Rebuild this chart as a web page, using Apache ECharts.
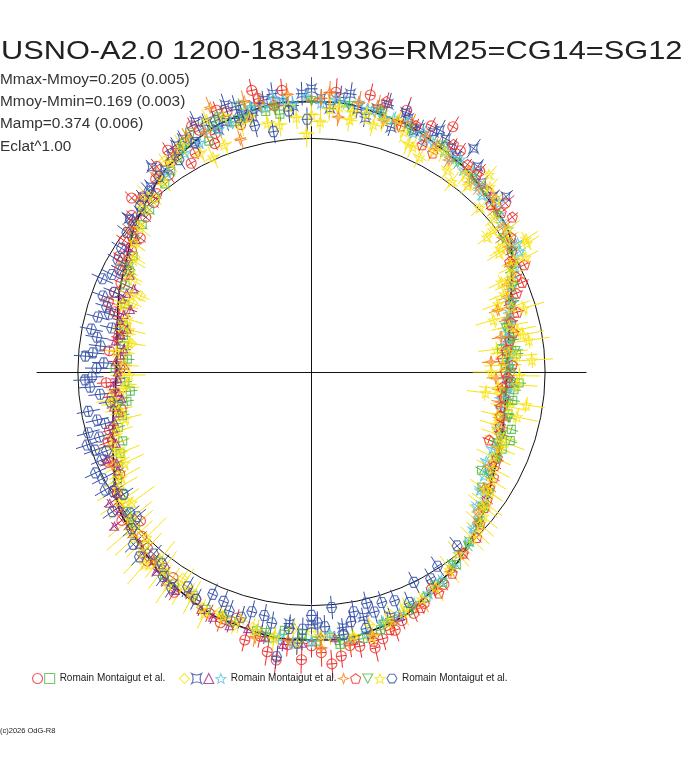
<!DOCTYPE html>
<html><head><meta charset="utf-8">
<script src="https://cdn.jsdelivr.net/npm/echarts@6/dist/echarts.min.js"></script>
<style>html,body{margin:0;padding:0;background:#fff}#c{width:688px;height:768px}</style>
</head><body><div id="c"></div>
<script>
// ---- texts ----
const titleText = 'USNO-A2.0 1200-18341936=RM25=CG14=SG12';
const statLines = ['Mmax-Mmoy=0.205 (0.005)', 'Mmoy-Mmin=0.169 (0.003)', 'Mamp=0.374 (0.006)', 'Eclat^1.00'];
const legendLabel = 'Romain Montaigut et al.';
const footerText = '(c)2026 OdG-R8';

// ---- scale (plot units: reference circle = 100) ----
const refRadius = 100;
const axisHalf = 117.5;

// ---- fitted curve: [phase angle deg, radius] ----
const modelCurve = [[0,83.5],[15,88],[30,99],[45,106],[60,110.5],[75,114],[90,115.5],[105,114],[120,109],[135,101],[150,92],[165,86],[180,83.5],[195,88],[210,97],[225,104],[240,109.5],[255,113],[270,114.5],[285,113],[300,106],[315,98],[330,89.5],[345,85]];

// ---- observations: [phase angle deg, radius, radial error] ----
const redCircles = [[96,121,5],[101,119,4],[104,113,3],[108,117,4],[112,110,4],[115,114,3],[118,106,3],[121,111,4],[124,108,3],[126,104,4],[129,106,3],[131,101,3],[134,104,4],[137,97,3],[140,99,3],[143,96,4],[146,93,3],[152,93,4],[158,91,3],[163,88,4],[170,84,3],[187,86,4],[196,90,3],[204,95,4],[212,98,3],[218,103,4],[224,101,3],[229,107,4],[233,105,3],[238,111,4],[243,109,3],[250,114,4],[256,118,5],[261,121,6],[265,117,5],[268,123,6],[272,120,6],[276,122,5],[280,119,5],[285,118,5],[290,113,4],[296,110,4],[302,107,3],[41,110,5],[56,114,4],[64,117,4],[70,119,6],[85,120,6],
  [98,115,4],[102,123,5],[106,110,3],[110,119,4],[113,106,3],[116,117,4],[120,103,3],[123,113,4],[127,110,4],[133,99,3],[136,107,4],[139,102,3],[142,93,3],[145,98,4],[149,96,3],[155,90,3],[161,92,4],[167,84,3],[174,87,4],[179,82,3],[183,88,4],[191,83,3],[199,92,4],[208,93,3],[215,101,4],[221,97,3],[227,103,4],[236,106,3],[247,112,4],[253,110,4],[259,115,5],[263,124,6],[270,117,5],[274,125,6],[278,118,5],[283,121,6],[288,116,5],[293,112,4],[299,106,4],[50,112,4],[60,121,5],[78,121,5]];
const greenSquares = [[97,111,3],[103,115,3],[107,112,3],[110,116,3],[114,108,3],[119,112,3],[125,105,3],[132,100,3],[139,96,3],[147,91,3],[155,88,3],[166,83,3],[172,81,3],[176,79,3],[183,80,3],[189,80,3],[193,83,3],[200,86,3],[206,92,3],[213,96,3],[221,100,3],[231,104,3],[237,108,3],[246,111,3],[258,113,3],[264,111,3],[271,115,3],[276,117,3],[281,116,3],[288,112,3],[297,108,3],[307,103,3],[318,96,3],[326,88,3],[330,84,3],[335,87,3],[338,88,3],[341,90,3],[344,89,3],[352,87,3],[355,87,3],[0,85,3],[5,88,3],[7,82,3],[14,87,3],
  [100,113,3],[105,118,3],[112,113,3],[117,115,3],[122,108,3],[128,102,3],[135,98,3],[143,95,3],[151,89,3],[160,85,3],[169,82,3],[179,84,3],[186,78,3],[196,86,3],[203,89,3],[209,95,3],[217,99,3],[226,103,3],[234,107,3],[242,108,3],[252,112,3],[261,115,3],[268,112,3],[285,114,3],[292,110,3],[302,106,3],[313,99,3],[322,93,3],[348,86,3],[357,89,3],[2,83,3],[10,86,3]];
const yellowDiamonds = [[122,108,4],[128,103,4],[136,99,4],[144,93,5],[151,89,4],[156,80,4],[161,85,4],[168,82,5],[174,80,4],[181,82,4],[186,85,5],[192,84,4],[198,89,4],[205,91,5],[211,96,4],[219,99,5],[226,103,4],[234,106,4],[241,107,4],[249,110,5],[257,112,4],[266,110,4],[274,113,4],[283,111,4],[292,108,4],
  [118,112,4],[125,110,4],[132,100,4],[140,97,4],[147,90,5],[153,86,4],[159,82,4],[165,84,4],[171,78,4],[177,83,4],[184,79,4],[189,87,4],[195,86,4],[202,90,4],[208,94,4],[215,97,4],[222,101,4],[230,107,4],[238,104,4],[245,111,4],[253,113,4],[262,114,4],[270,111,4],[279,115,4],[288,109,4]];
const blueCrosses = [[42,112,4],[48,109,4],[54,118,5],[58,113,4],[60,115,4],[63,115,4],[67,112,4],[70,118,5],[72,110,4],[76,116,4],[80,114,4],[84,118,5],[88,117,4],[92,119,5],[96,116,4],[100,118,4],[103,112,4],[106,118,5],[109,113,4],[113,116,4],[117,110,4],[121,113,4],[126,107,4],[131,105,4],[137,100,4],[265,108,4],[277,110,4],
  [44,108,4],[51,113,4],[56,111,4],[62,117,5],[66,114,4],[69,116,4],[74,119,5],[78,111,4],[82,120,5],[86,113,4],[90,121,5],[94,114,4],[98,120,5],[102,116,4],[105,114,4],[108,120,5],[111,111,4],[115,118,5],[119,114,4],[123,110,4],[128,111,4],[134,104,4],[140,102,4],[270,108,4],[282,107,4],[288,110,4]];
const purpleTriangles = [[141,98,3],[146,95,3],[150,91,3],[155,84,3],[159,87,3],[161,82,3],[165,85,3],[169,83,3],[173,81,3],[177,84,3],[180,83,3],[184,85,3],[186,83,3],[190,86,3],[194,87,3],[198,90,3],[203,95,3],[207,93,3],[210,97,3],[213,103,3],[216,101,3],[218,107,3],[222,103,3],[227,106,3],[232,108,3],[238,110,3],[245,112,3],[252,114,3],[260,115,3],[268,116,3],[275,114,3],[283,115,3],
  [143,94,3],[148,93,3],[152,88,3],[157,86,3],[163,84,3],[167,81,3],[171,85,3],[175,82,3],[178,80,3],[182,83,3],[188,82,3],[192,84,3],[196,88,3],[200,89,3],[205,92,3],[212,98,3],[220,102,3],[225,104,3],[230,105,3],[235,109,3],[241,108,3],[248,113,3],[256,113,3],[264,117,3],[272,113,3],[279,116,3],[290,111,3]];
const cyanStars = [[-35,88,3],[-31,86,3],[-27,84,3],[-23,84,3],[-17,83.5,3],[-11,83,3],[-6,84,3],[-2,83,3],[3,85,3],[8,84,3],[12,86,3],[15,87.5,3],[17,88.7,3],[20,90,3],[23,93,3],[27,98,3],[30,103,3],[33,101,3],[36,104,3],[40,105,3],[44,106,3],[48,107,3],[51,110,3],[53,108,3],[57,109,3],[62,111,3],[65,113,3],[67,111,3],[72,114,3],[76,115,3],[80,117,3],[83,116,3],[88,115,3],[91,118,3],[96,117,3],[100,115,3],[105,113,3],[111,111,3],[116,109,3],[263,114,3],[270,115,3],[274,112,3],[282,114,3],[290,110,3],[298,107,3],[306,103,3],[313,99,3],[319,95,3],
  [-44,96,3],[-39,91,3],[-29,87,3],[-20,85,3],[-14,84,3],[-8,82,3],[-4,86,3],[1,84,3],[6,86,3],[10,85,3],[14,88,3],[19,91,3],[25,95,3],[29,99,3],[32,104,3],[38,103,3],[42,108,3],[46,105,3],[50,107,3],[55,111,3],[59,110,3],[64,110,3],[69,114,3],[74,113,3],[78,115,3],[85,117,3],[94,115,3],[98,118,3],[103,116,3],[108,112,3],[114,113,3],[120,108,3],[126,105,3],[258,113,3],[266,116,3],[278,115,3],[286,111,3],[294,108,3],[302,105,3],[309,100,3],[316,97,3],[324,92,3]];
const orangeStars = [[-40,93,4],[-28,86,4],[-14,84,4],[-5.4,81.6,4],[-1.9,79,4],[3.2,77,4],[10.4,82.5,4],[18.4,84,4],[24,92,4],[28.5,97.7,4],[32.3,100,4],[37,103,4],[41.5,104.5,4],[47.6,106.5,4],[52,109,4],[57,108,4],[64,112,4],[71,113,4],[76,117,5],[80,117,5],[84,109.6,4],[86.3,119.6,5],[90,116,4],[95,119,5],[101,117,4],[107,104,4],[111,121,5],[118,114,4],[128,108,4],[142,99,4],[265,115,4],[278,117,4],[288,113,4],[300,107,4],[310,101,4],
  [-34,89,4],[-22,86,4],[-9,82,4],[7,84,4],[15,87,4],[21,90,4],[35,100,4],[44,108,4],[50,106,4],[61,111,4],[68,115,4],[74,112,4],[88,117,4],[98,115,4],[104,119,5],[114,112,4],[122,110,4],[135,104,4],[150,93,4],[205,94,4],[230,105,4],[250,112,4],[258,116,4],[272,118,4],[283,115,4],[294,110,4],[305,104,4],[318,96,4]];
const redPentagons = [[-45,100,3],[-38,94,3],[-33,91,3],[-30,90,3],[-24.8,87.6,3],[-20.9,81.4,3],[-16,84,3],[-10.4,82.5,3],[-7.4,83,3],[-4.5,82,3],[-1.5,84,3],[2,86,3],[6.4,84,3],[11,88,3],[16.2,91.7,3],[21,94,3],[24.9,96.6,3],[26.7,102,3],[31,100,3],[37.6,108.5,3],[43,105,3],[50,110,3],[58,114.7,3],[61,107,3],[64,108,3],[67,114.5,3],[74.5,120,4],[283,118,4],[295,111,3],[305,105,3],
  [-42,97,3],[-36,93,3],[-27,88,3],[-18,85,3],[-13,83,3],[-3,85,3],[0,83,3],[4,82,3],[9,86,3],[14,88,3],[19,90,3],[23,98,3],[29,97,3],[34,103,3],[40,106,3],[46,108,3],[53,111,3],[70,112,3],[287,115,3],[300,109,3],[310,101,3]];
const greenTriangles = [[-42,97,3],[-34,92,3],[-25,88,3],[-18,86,3],[-9,85,3],[-3,86,3],[4,84,3],[9,87,3],[19,91,3],[27,96,3],[35,100,3],[46,107,3],[55,109,3],[68,112,3],[82,115,3],[98,114,3],[268,114,3],[286,112,3],[300,105,3],[312,100,3],
  [-38,94,3],[-30,88,3],[-21,85,3],[-13,87,3],[-6,83,3],[1,85,3],[6,88,3],[13,85,3],[23,94,3],[31,100,3],[40,104,3],[50,108,3],[60,112,3],[75,115,3],[90,116,3],[105,112,3],[120,110,3],[150,90,3],[190,84,3],[220,101,3],[250,111,3],[260,113,3],[276,115,3],[293,110,3],[306,102,3]];
const yellowStars = [[-40,96,8],[-34,92,7],[-28,88,8],[-22,87,7],[-18.5,84.7,8],[-13,81.6,7],[-12.3,90,9],[-8.7,93,8],[-6.8,75,8],[-3.6,88,9],[0,77,8],[3.1,94.5,9],[5.8,85,8],[8.3,94,9],[11.5,90,8],[15.9,81,8],[16.7,95,9],[22,89,7],[25.3,89.9,6],[25.8,95,6],[27.7,96.6,6],[28.1,104,6],[30.8,107.5,6],[31.8,108,6],[32.3,95,6],[34,101,6],[37.5,94.7,5],[38,98.5,5],[42.9,108,5],[44.3,100.5,5],[48,113.5,5],[50,104,5],[53.6,101,5],[58.8,110,5],[63.3,102.8,5],[65.8,105.5,5],[69,110,5],[73.8,112,5],[78,113,5],[81,112.5,5],[81.4,109,5],[86,112.6,5],[88,107,5],[91.2,102,6],[93.4,109,5],[97.4,106.5,5],[103.7,112,5],[109,115.5,5],[112.6,116.7,5],[114.7,101,5],[117,105,5],[124,108,5],[133,103,6],[140,96,6],[148,90,6],[157,84,7],[164,82,7],[171,79,7],[178,80,6],[185,81,7],[191,84,6],[197,87,7],[203,88,8],[209,93,9],[214,99,10],[219,100,12],[223,104,11],[227,106,12],[231,103,10],[236,110,9],[242,109,8],[250,111,6],[258,113,5],[267,116,5],[279,114,5],[287,112,5],[296,108,6],[305,103,7],[314,99,7],[322,93,8],
  [-44,99,7],[-37,94,8],[-31,90,7],[-25,86,8],[-20,88,9],[-16,82,7],[-10,86,8],[-5,80,8],[-1,89,9],[2,82,8],[4.5,88,9],[7,80,8],[10,92,9],[13,87,8],[18,90,8],[20,85,7],[24,93,7],[29,99,6],[33,97,6],[36,104,6],[40,102,5],[46,110,5],[52,107,5],[56,104,5],[61,108,5],[67,106,5],[71,114,5],[76,109,5],[84,114,5],[90,110,5],[95,114,5],[100,108,5],[106,110,5],[111,104,5],[120,112,5],[128,104,6],[136,101,6],[144,94,6],[152,89,7],[160,86,7],[167,80,7],[174,84,6],[181,78,7],[188,86,7],[194,82,7],[200,91,8],[206,89,9],[211,97,10],[216,95,12],[221,103,13],[225,100,12],[229,109,11],[233,106,10],[239,107,9],[246,113,7],[254,110,6],[262,115,5],[272,113,5],[283,116,5],[291,110,6],[300,106,7],[309,100,7],[318,97,8],[326,90,8]];
const blueHexagons = [[91,108,5],[99,104,5],[106,113,5],[117,110,5],[128,106,5],[136,102,5],[143,99,5],[150,95.7,5],[154,95,5],[158,91,5],[162.4,92,5],[165.6,94.4,5],[167.6,87.6,5],[170.8,93,5],[175,94,5],[177.5,89,5],[181.3,94,5],[183.9,95,5],[188.4,87,5],[192.6,94,5],[195.2,99,5],[197,95,5],[199.8,98.5,5],[202.7,97.3,5],[207,100.4,5],[209.7,101.7,5],[213,96,5],[217.8,98.3,5],[219.6,97,5],[224,106,5],[229,103,5],[234,108,5],[240,106,5],[246,104,5],[251,108,5],[256,105.6,5],[261,108.6,5],[263,122.6,5],[267,116,5],[268,110,5],[271.4,107.3,5],[274.9,101,5],[277,113,5],[280,104,5],[283.4,101.5,5],[284.7,106,5],[290,104,5],[296,100,5],[303,99,5],[310,97,5],
  [95,112,5],[103,108,5],[111,115,5],[122,107,5],[132,104,5],[140,101,5],[147,97,5],[152,92,5],[156,98,5],[160,95,5],[164,90,5],[169,96,5],[173,91,5],[176,97,5],[179,92,5],[182,97,5],[186,91,5],[190,97,5],[194,91,5],[198,101,5],[201,94,5],[205,102,5],[211,99,5],[215,104,5],[221,102,5],[227,108,5],[232,104,5],[237,110,5],[243,109,5],[249,105,5],[254,109,5],[259,106,5],[265,110,5],[270,104,5],[273,109,5],[279,108,5],[282,112,5],[287,103,5],[293,107,5],[300,102,5]];

// ---- styles ----
const RED = '#ee2a2a', GREEN = '#52b848', YELLOW = '#f9e40c', BLUE = '#3550a8', PURPLE = '#a3267e', CYAN = '#5cc6dc', ORANGE = '#f7841f';
const P_CONCAVE = 'path://M0,0 Q5,3 10,0 Q7,5 10,10 Q5,7 0,10 Q3,5 0,0 Z';
const P_STAR4 = 'path://M5,0 L6.3,3.7 L10,5 L6.3,6.3 L5,10 L3.7,6.3 L0,5 L3.7,3.7 Z';
const P_STAR5 = 'path://M5,0 L6.3,3.3 L9.76,3.45 L7.1,5.7 L7.94,9.05 L5,7.2 L2.06,9.05 L2.9,5.7 L0.24,3.45 L3.7,3.3 Z';
const P_PENT = 'path://M5,0 L9.76,3.45 L7.94,9.05 L2.06,9.05 L0.24,3.45 Z';
const P_HEX = 'path://M10,5 L7.5,0.67 L2.5,0.67 L0,5 L2.5,9.33 L7.5,9.33 Z';
const P_INVTRI = 'path://M0,0 L10,0 L5,9 Z';

const sets = [
  {name:'s1', data:redCircles, color:RED, symbol:'circle', size:10, tan:5},
  {name:'s2', data:greenSquares, color:GREEN, symbol:'rect', size:8, tan:5},
  {name:'s3', data:yellowDiamonds, color:YELLOW, symbol:'diamond', size:10, tan:5},
  {name:'s4', data:blueCrosses, color:BLUE, symbol:P_CONCAVE, size:9, tan:6},
  {name:'s5', data:purpleTriangles, color:PURPLE, symbol:'triangle', size:8, tan:5},
  {name:'s6', data:cyanStars, color:CYAN, symbol:P_STAR5, size:10, tan:6},
  {name:'s7', data:orangeStars, color:ORANGE, symbol:P_STAR4, size:11, tan:6},
  {name:'s8', data:redPentagons, color:RED, symbol:P_PENT, size:10, tan:5},
  {name:'s9', data:greenTriangles, color:GREEN, symbol:P_INVTRI, size:8, tan:5},
  {name:'s10', data:yellowStars, color:YELLOW, symbol:P_STAR5, size:10, tan:8},
  {name:'s11', data:blueHexagons, color:BLUE, symbol:P_HEX, size:10, tan:5}
];
const legendGroups = [[0,1],[2,3,4,5],[6,7,8,9,10]];
const legendLefts = [32, 179, 338];

const D2R = Math.PI / 180;
function toXY(th, r) { return [r * Math.cos(th * D2R), r * Math.sin(th * D2R)]; }

const series = [];
series.push({
  type:'custom', silent:true, z:1, data:[[0,0]],
  renderItem(params, api) {
    const c = api.coord([0,0]);
    const e = api.coord([refRadius,0]);
    return {type:'circle', shape:{cx:c[0], cy:c[1], r:e[0]-c[0]}, style:{fill:'none', stroke:'#111', lineWidth:1}};
  }
});
series.push({
  type:'line', silent:true, z:2, smooth:0.5, showSymbol:false, symbol:'none',
  data: modelCurve.concat([modelCurve[0]]).map(p => toXY(p[0], p[1])),
  lineStyle:{color:'#111', width:1.6}
});
sets.forEach(s => {
  series.push({
    type:'custom', name:'e_' + s.name, silent:true, z:3, data:s.data,
    renderItem(params, api) {
      const th = api.value(0) * D2R, r = api.value(1), e = api.value(2);
      const c = Math.cos(th), sn = Math.sin(th);
      const p1 = api.coord([(r - e) * c, (r - e) * sn]);
      const p2 = api.coord([(r + e) * c, (r + e) * sn]);
      const pc = api.coord([r * c, r * sn]);
      const tx = -sn * s.tan, ty = -c * s.tan;
      return {type:'group', children:[
        {type:'line', shape:{x1:p1[0], y1:p1[1], x2:p2[0], y2:p2[1]}, style:{stroke:s.color, lineWidth:1}},
        {type:'line', shape:{x1:pc[0]-tx, y1:pc[1]-ty, x2:pc[0]+tx, y2:pc[1]+ty}, style:{stroke:s.color, lineWidth:1}}
      ]};
    }
  });
  series.push({
    type:'scatter', name:s.name, silent:true, z:3, clip:false,
    symbol:s.symbol, symbolSize:s.size,
    data: s.data.map(p => toXY(p[0], p[1])),
    itemStyle:{color:'transparent', borderColor:s.color, borderWidth:1.1}
  });
});

const legends = legendGroups.map((g, gi) => ({
  left: legendLefts[gi], top: 673, orient:'horizontal', padding:0,
  itemWidth:10, itemHeight:10, itemGap:1, selectedMode:false,
  textStyle:{fontSize:10, color:'#222', fontFamily:'Liberation Sans'},
  formatter: name => (name === sets[g[g.length-1]].name ? legendLabel : ''),
  data: g.map(i => ({name:sets[i].name, icon:sets[i].symbol,
    itemStyle:{color:'transparent', borderColor:sets[i].color, borderWidth:1.1}}))
}));

const graphics = [
  {type:'text', x:1, y:52, scaleX:1.183, silent:true,
   style:{text:titleText, fontSize:26, fontFamily:'Liberation Sans', fill:'#222', verticalAlign:'middle', textVerticalAlign:'middle'}},
  {type:'text', x:0, y:731, silent:true,
   style:{text:footerText, fontSize:7.5, fontFamily:'Liberation Sans', fill:'#222', verticalAlign:'middle', textVerticalAlign:'middle'}}
];
statLines.forEach((t, i) => graphics.push({
  type:'text', x:0, y:80 + i * 22.3, scaleX:1.1, silent:true,
  style:{text:t, fontSize:14, fontFamily:'Liberation Sans', fill:'#333', verticalAlign:'middle', textVerticalAlign:'middle'}
}));

const axisCommon = {
  type:'value', min:-axisHalf, max:axisHalf,
  axisLine:{show:true, onZero:true, lineStyle:{color:'#111', width:1}},
  axisTick:{show:false}, axisLabel:{show:false}, splitLine:{show:false}
};

const chart = echarts.init(document.getElementById('c'), null, {renderer:'canvas'});
chart.setOption({
  animation:false,
  backgroundColor:'#fff',
  grid:{left:37, top:97, width:549, height:550},
  xAxis: axisCommon,
  yAxis: axisCommon,
  legend: legends,
  graphic: graphics,
  series: series
});
</script>
</body></html>
